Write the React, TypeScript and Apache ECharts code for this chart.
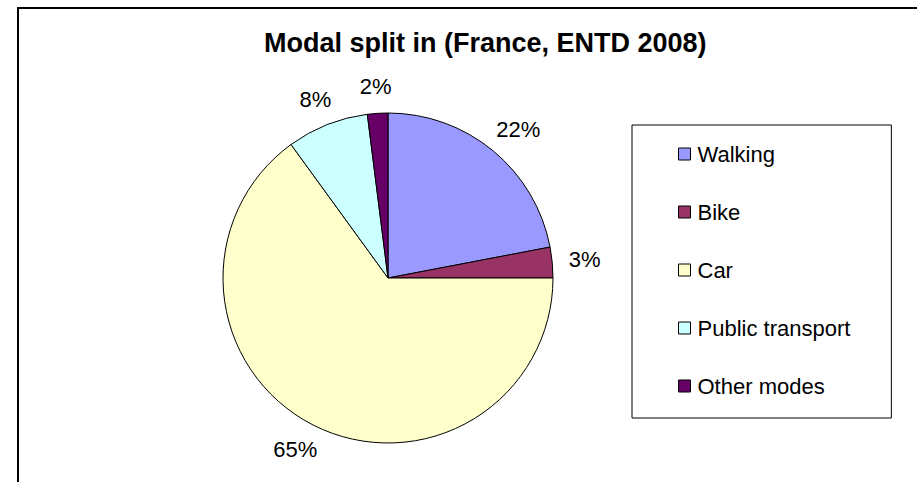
import React, { useEffect, useRef } from "react";
import * as echarts from "echarts";

const categories = ["Walking", "Bike", "Car", "Public transport", "Other modes"];
const shares = [22, 3, 65, 8, 2];
const colors = ["#9999FF", "#993366", "#FFFFCC", "#CCFFFF", "#660066"];
const titleText = "Modal split in (France, ENTD 2008)";

const FONT = "'Liberation Sans', Arial, sans-serif";
const CX = 388;
const CY = 278;
const R = 165;
const GAP = 15;

export default function App() {
  const ref = useRef<HTMLDivElement>(null);
  useEffect(() => {
    if (!ref.current) return;
    const chart = echarts.init(ref.current, null, { renderer: "svg" });
    const total = shares.reduce((a, b) => a + b, 0);
    let acc = 0;
    const mids = shares.map((v) => {
      const m = ((acc + v / 2) / total) * Math.PI * 2;
      acc += v;
      return m;
    });
    chart.setOption({
      animation: false,
      backgroundColor: "#ffffff",
      title: {
        text: titleText,
        left: 264,
        top: 29,
        padding: 0,
        textStyle: { fontFamily: FONT, fontSize: 27, fontWeight: "bold", color: "#000" },
      },
      graphic: [
        {
          type: "rect",
          shape: { x: 18, y: 8, width: 1200, height: 1000 },
          style: { fill: "none", stroke: "#000", lineWidth: 2 },
          silent: true,
        },
      ],
      legend: {
        orient: "vertical",
        left: 632,
        top: 125,
        padding: [18, 41, 21, 46],
        itemGap: 36,
        itemWidth: 12,
        itemHeight: 12,
        icon: "rect",
        borderColor: "#000",
        borderWidth: 1,
        data: categories,
        itemStyle: { borderColor: "#000", borderWidth: 1 },
        textStyle: { fontFamily: FONT, fontSize: 22, color: "#000", padding: [0, 0, 0, 2] },
      },
      series: [
        {
          type: "pie",
          center: [CX, CY],
          radius: R,
          startAngle: 90,
          clockwise: true,
          avoidLabelOverlap: false,
          data: categories.map((name, i) => ({
            name,
            value: shares[i],
            itemStyle: { color: colors[i] },
          })),
          itemStyle: { borderColor: "#000", borderWidth: 1 },
          label: {
            show: true,
            position: "outside",
            formatter: (p: any) => Math.round(p.percent) + "%",
            fontFamily: FONT,
            fontSize: 22,
            color: "#000",
          },
          labelLine: { show: false, length: 15, length2: 0 },
          labelLayout: (p: any) => {
            const a = mids[p.dataIndex];
            const nx = Math.sin(a);
            const ny = -Math.cos(a);
            const hw = p.labelRect.width / 2;
            const hh = p.labelRect.height / 2;
            const d = R + GAP;
            return {
              x: CX + nx * d + hw * nx * 1.1,
              y: CY + ny * d + hh * ny * 1.1,
              align: "center",
              verticalAlign: "middle",
            };
          },
          emphasis: { disabled: true },
        },
      ],
    });
    return () => chart.dispose();
  }, []);
  return (
    <div
      ref={ref}
      style={{ position: "fixed", left: 0, top: 0, width: 917, height: 482 }}
    />
  );
}
